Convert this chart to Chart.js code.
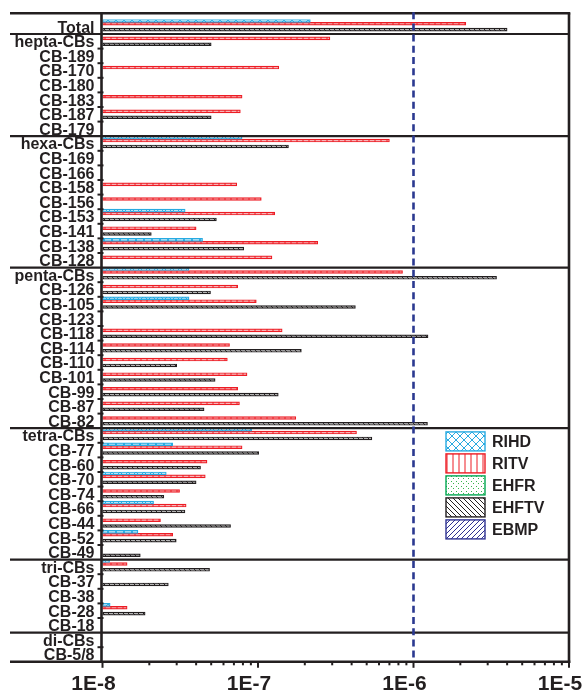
<!DOCTYPE html>
<html>
<head>
<meta charset="utf-8">
<script src="https://cdn.jsdelivr.net/npm/chart.js@4.4.1/dist/chart.umd.min.js"></script>
<style>
  html, body { margin: 0; padding: 0; background: #ffffff; }
  #wrap { width: 587px; height: 693px; }
</style>
</head>
<body>
<div id="wrap"><canvas id="c" width="587" height="693"></canvas></div>
<script>
// Congener names, top to bottom; each homologue group starts with its "-CBs" sum row
const categories = [
  'Total',
  'hepta-CBs', 'CB-189', 'CB-170', 'CB-180', 'CB-183', 'CB-187', 'CB-179',
  'hexa-CBs', 'CB-169', 'CB-166', 'CB-158', 'CB-156', 'CB-153', 'CB-141', 'CB-138', 'CB-128',
  'penta-CBs', 'CB-126', 'CB-105', 'CB-123', 'CB-118', 'CB-114', 'CB-110', 'CB-101', 'CB-99', 'CB-87', 'CB-82',
  'tetra-CBs', 'CB-77', 'CB-60', 'CB-70', 'CB-74', 'CB-66', 'CB-44', 'CB-52', 'CB-49',
  'tri-CBs', 'CB-37', 'CB-38', 'CB-28', 'CB-18',
  'di-CBs', 'CB-5/8'
];

// Rows that open a new homologue group (a separator line is drawn above each)
const groupStarts = ['hepta-CBs', 'hexa-CBs', 'penta-CBs', 'tetra-CBs', 'tri-CBs', 'di-CBs'];

const rihd = [
  2.17e-7,
  null, null, null, null, null, null, null,
  7.9e-8, null, null, null, null, 3.4e-8, null, 4.4e-8, null,
  3.6e-8, null, 3.6e-8, null, null, null, null, null, null, null, null,
  9.1e-8, 2.83e-8, null, 2.57e-8, null, 2.13e-8, null, 1.69e-8, null,
  1.11e-8, null, null, 1.12e-8, null,
  null, null
];

const ritv = [
  2.17e-6,
  2.9e-7, null, 1.36e-7, null, 7.9e-8, 7.7e-8, null,
  7.0e-7, null, null, 7.3e-8, 1.05e-7, 1.28e-7, 4.0e-8, 2.42e-7, 1.23e-7,
  8.5e-7, 7.4e-8, 9.75e-8, null, 1.43e-7, 6.56e-8, 6.35e-8, 8.5e-8, 7.4e-8, 7.6e-8, 1.75e-7,
  4.3e-7, 7.9e-8, 4.7e-8, 4.58e-8, 3.13e-8, 3.45e-8, 2.36e-8, 2.83e-8, null,
  1.44e-8, null, null, 1.44e-8, null,
  null, null
];

const ehfr = categories.map(() => null);

const ehftv = [
  4.0e-6,
  5.0e-8, null, null, null, null, 5.0e-8, null,
  1.57e-7, null, null, null, null, 5.4e-8, 2.06e-8, 8.1e-8, null,
  3.42e-6, 4.95e-8, 4.23e-7, null, 1.24e-6, 1.9e-7, 3.0e-8, 5.3e-8, 1.35e-7, 4.5e-8, 1.23e-6,
  5.4e-7, 1.01e-7, 4.27e-8, 4.0e-8, 2.48e-8, 3.39e-8, 6.66e-8, 2.98e-8, 1.75e-8,
  4.88e-8, 2.65e-8, null, 1.88e-8, null,
  null, null
];

const ebmp = categories.map(() => null);

const seriesNames = ['RIHD', 'RITV', 'EHFR', 'EHFTV', 'EBMP'];
const xTickValues = [1e-8, 1e-7, 1e-6, 1e-5];
const xTickLabels = ['1E-8', '1E-7', '1E-6', '1E-5'];
const referenceLevel = 1e-6;

const INK = '#231f20';
const NAVY = '#2b3990';
const FONT = "'Liberation Sans', Arial, sans-serif";

const canvas = document.getElementById('c');
const mainCtx = canvas.getContext('2d');

// Small repeating hatch tiles; "bg" tints the gaps between hatch strokes
function hatch(kind, color, bg) {
  const s = kind === 'vertical' ? 6 : (kind === 'cross' ? 8 : 5);
  const t = document.createElement('canvas');
  t.width = s; t.height = s;
  const g = t.getContext('2d');
  g.fillStyle = bg;
  g.fillRect(0, 0, s, s);
  g.strokeStyle = color;
  g.fillStyle = color;
  g.lineWidth = 1;
  g.beginPath();
  if (kind === 'cross') {
    g.moveTo(0, 0); g.lineTo(s, s);
    g.moveTo(s, 0); g.lineTo(0, s);
  } else if (kind === 'vertical') {
    g.moveTo(s / 2, 0); g.lineTo(s / 2, s);
  } else if (kind === 'back') {
    g.moveTo(-1, -1); g.lineTo(s + 1, s + 1);
    g.moveTo(-1, s - 1); g.lineTo(1, s + 1);
    g.moveTo(s - 1, -1); g.lineTo(s + 1, 1);
  } else if (kind === 'forward') {
    g.moveTo(-1, s + 1); g.lineTo(s + 1, -1);
    g.moveTo(-1, 1); g.lineTo(1, -1);
    g.moveTo(s - 1, s + 1); g.lineTo(s + 1, s - 1);
  }
  g.stroke();
  if (kind === 'dots') {
    g.fillRect(1, 1, 1, 1);
    g.fillRect(3, 3, 1, 1);
  }
  return mainCtx.createPattern(t, 'repeat');
}

const seriesStyles = [
  { color: '#27aae1', bar: hatch('cross', '#27aae1', '#b9e3f6'),   key: hatch('cross', '#27aae1', '#ffffff') },
  { color: '#ed1c24', bar: hatch('vertical', '#ed1c24', '#f8b3b6'), key: hatch('vertical', '#ed1c24', '#ffffff') },
  { color: '#00a651', bar: hatch('dots', '#39b54a', '#e4f4e6'),    key: hatch('dots', '#39b54a', '#ffffff') },
  { color: INK,       bar: hatch('back', INK, '#b4b4b4'),          key: hatch('back', INK, '#ffffff') },
  { color: '#2e3192', bar: hatch('forward', '#2e3192', '#d0d1ea'), key: hatch('forward', '#2e3192', '#ffffff') }
];

const seriesValues = [rihd, ritv, ehfr, ehftv, ebmp];

const datasets = seriesNames.map((name, i) => ({
  label: name,
  data: seriesValues[i],
  backgroundColor: seriesStyles[i].bar,
  borderColor: seriesStyles[i].color,
  borderWidth: 1.2,
  borderSkipped: false,
  barPercentage: 1.0,
  categoryPercentage: 1.0
}));

function strokeLine(ctx, x1, y1, x2, y2) {
  ctx.beginPath();
  ctx.moveTo(x1, y1);
  ctx.lineTo(x2, y2);
  ctx.stroke();
}

// Frame, group separators, tick marks, the 1E-6 reference line and the legend
const framePlugin = {
  id: 'frame',
  afterDatasetsDraw(chart) {
    const { ctx, chartArea: a, scales } = chart;
    const x = scales.x, y = scales.y;
    const top = a.top - 6.2;
    const leftEdge = 10;
    const step = y.getPixelForValue(1) - y.getPixelForValue(0);
    const boundary = i => y.getPixelForValue(i) - step / 2;

    ctx.save();
    ctx.strokeStyle = INK;
    ctx.lineCap = 'butt';

    // minor ticks on the category axis
    ctx.lineWidth = 2;
    for (let i = 1; i < categories.length; i++) {
      if (groupStarts.includes(categories[i])) continue;
      const py = boundary(i);
      strokeLine(ctx, a.left - 5, py, a.left + 1, py);
    }

    // group separators
    ctx.lineWidth = 2.2;
    groupStarts.forEach(name => {
      const py = boundary(categories.indexOf(name));
      strokeLine(ctx, leftEdge, py, a.right, py);
    });

    // outer frame
    ctx.lineWidth = 2.6;
    strokeLine(ctx, leftEdge, top, a.right + 1.3, top);
    strokeLine(ctx, leftEdge, a.bottom, a.right + 1.3, a.bottom);
    strokeLine(ctx, a.left - 1, top, a.left - 1, a.bottom + 1.3);
    strokeLine(ctx, a.right, top, a.right, a.bottom + 1.3);

    // log ticks below the value axis
    ctx.lineWidth = 2;
    for (let d = -8; d <= -6; d++) {
      for (let m = 1; m <= 9; m++) {
        const px = x.getPixelForValue(m * Math.pow(10, d));
        strokeLine(ctx, px, a.bottom, px, a.bottom + (m === 1 ? 6 : 3.5));
      }
    }
    const pEnd = x.getPixelForValue(1e-5);
    strokeLine(ctx, pEnd, a.bottom, pEnd, a.bottom + 6);

    // reference level
    const pr = x.getPixelForValue(referenceLevel);
    ctx.strokeStyle = NAVY;
    ctx.lineWidth = 2.6;
    ctx.setLineDash([7, 4.2]);
    strokeLine(ctx, pr, top - 1, pr, a.bottom);
    ctx.setLineDash([]);

    // legend
    const lx = a.right - 123, ly = a.top + 412.5;
    ctx.font = 'bold 16px ' + FONT;
    ctx.textBaseline = 'middle';
    ctx.textAlign = 'left';
    chart.data.datasets.forEach((ds, i) => {
      const by = ly + i * 22;
      ctx.fillStyle = seriesStyles[i].key;
      ctx.fillRect(lx, by, 39, 19);
      ctx.strokeStyle = ds.borderColor;
      ctx.lineWidth = 1.4;
      ctx.strokeRect(lx, by, 39, 19);
      ctx.fillStyle = INK;
      ctx.fillText(ds.label, lx + 46, by + 10.5);
    });

    ctx.restore();
  }
};

new Chart(canvas, {
  type: 'bar',
  data: { labels: categories, datasets },
  options: {
    indexAxis: 'y',
    responsive: false,
    animation: false,
    devicePixelRatio: 1,
    layout: { padding: { top: 19.4, right: 18, bottom: 0, left: 0 } },
    plugins: {
      legend: { display: false },
      tooltip: { enabled: false }
    },
    scales: {
      x: {
        type: 'logarithmic',
        position: 'bottom',
        min: 1e-8,
        max: 1e-5,
        border: { display: false },
        grid: { display: false, drawTicks: false },
        afterBuildTicks(scale) {
          scale.ticks = xTickValues.map(v => ({ value: v, major: true }));
        },
        afterFit(scale) {
          scale.height = 31.2;
          scale.paddingLeft = 0;
          scale.paddingRight = 0;
        },
        ticks: {
          autoSkip: false,
          maxRotation: 0,
          padding: 10,
          labelOffset: -9,
          color: INK,
          font: { family: FONT, weight: 'bold', size: 21 },
          callback(value) {
            const i = xTickValues.findIndex(v => Math.abs(v - value) / v < 1e-6);
            return i >= 0 ? xTickLabels[i] : '';
          }
        }
      },
      y: {
        type: 'category',
        position: 'left',
        border: { display: false },
        grid: { display: false, drawTicks: false },
        afterFit(scale) {
          scale.width = 102.5;
          scale.paddingTop = 0;
          scale.paddingBottom = 0;
        },
        ticks: {
          autoSkip: false,
          padding: 8,
          labelOffset: 1.5,
          color: INK,
          font: { family: FONT, weight: 'bold', size: 16 }
        }
      }
    }
  },
  plugins: [framePlugin]
});
</script>
</body>
</html>
